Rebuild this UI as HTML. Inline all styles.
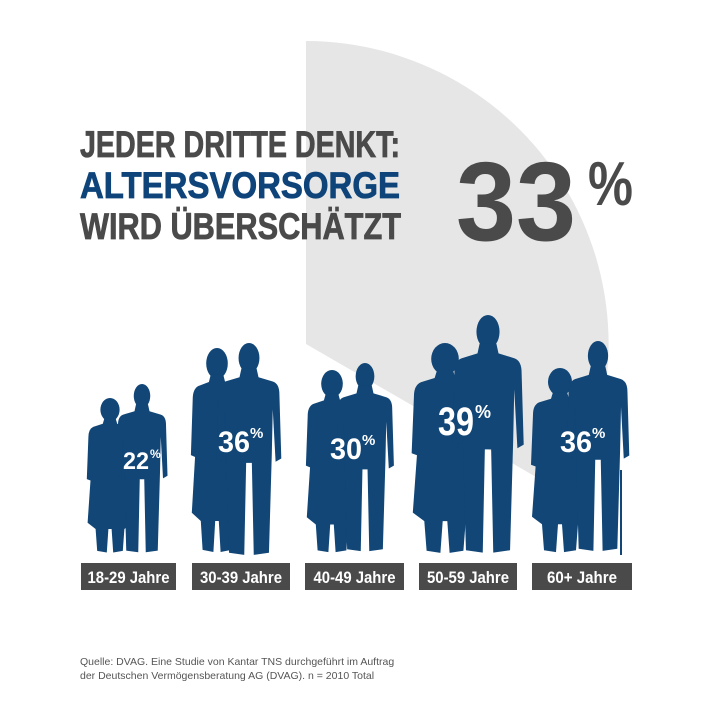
<!DOCTYPE html>
<html><head><meta charset="utf-8"><style>
html,body{margin:0;padding:0;background:#fff;}
svg{display:block;}
text{font-family:"Liberation Sans Narrow","Liberation Sans",sans-serif;font-weight:bold;}
</style></head><body>
<svg width="710" height="710" viewBox="0 0 710 710" xmlns="http://www.w3.org/2000/svg">
<defs>
<g id="man2"><ellipse cx="0" cy="14" rx="11" ry="14"/><path d="M-8,24 L8,24 L10,32 L25,36 Q32,38 32,48 L34,108 L28,111 L25,62 L24,104 L21,196 L5,198 L3,112 L-3,112 L-5,198 L-21,196 L-24,104 L-25,62 L-28,111 L-34,108 L-32,48 Q-32,38 -25,36 L-10,32 Z"/></g>
<g id="wom"><ellipse cx="0" cy="15" rx="12" ry="15"/><path d="M-7,26 L7,26 L9,33 L21,37 Q27,40 27,50 L29,104 L24,106 L22,70 L28,160 L18,168 L16,196 L4,198 L2,168 L-2,168 L-4,198 L-16,196 L-18,168 L-28,160 L-22,70 L-24,106 L-29,104 L-27,50 Q-27,40 -21,37 L-9,33 Z"/></g>
</defs>
<path d="M306,344 L306,41 A303,303 0 0,1 568,495.5 Z" fill="#e6e6e6"/>
<g stroke-width="0.8">
<text x="80" y="157" font-size="37" fill="#4a4a4a" stroke="#4a4a4a" textLength="320" lengthAdjust="spacingAndGlyphs">JEDER DRITTE DENKT:</text>
<text x="80" y="198" font-size="37" fill="#0e4479" stroke="#0e4479" textLength="320" lengthAdjust="spacingAndGlyphs">ALTERSVORSORGE</text>
<text x="80" y="239" font-size="37" fill="#4a4a4a" stroke="#4a4a4a" textLength="321" lengthAdjust="spacingAndGlyphs">WIRD ÜBERSCHÄTZT</text>
</g>
<text x="456" y="240" font-size="112" fill="#4a4a4a" textLength="120" lengthAdjust="spacingAndGlyphs">33</text>
<text x="588" y="205" font-size="62" fill="#4a4a4a" textLength="45" lengthAdjust="spacingAndGlyphs">%</text>
<g fill="#114677">
<use href="#wom" transform="translate(110,398) scale(0.8,0.78)"/>
<use href="#man2" transform="translate(142,384) scale(0.75,0.85)"/>
<use href="#wom" transform="translate(217,348) scale(0.9,1.03)"/>
<use href="#man2" transform="translate(249,343) scale(0.95,1.07)"/>
<use href="#wom" transform="translate(332,370) scale(0.9,0.92)"/>
<use href="#man2" transform="translate(365,363) scale(0.85,0.95)"/>
<use href="#wom" transform="translate(445,343) scale(1.15,1.06)"/>
<use href="#man2" transform="translate(488,315) scale(1.05,1.2)"/>
<use href="#wom" transform="translate(560,368) scale(1.0,0.93)"/>
<use href="#man2" transform="translate(598,341) scale(0.92,1.06)"/>
<rect x="620" y="470" width="2" height="85"/>
</g>
<g fill="#fff">
<text x="123" y="469" font-size="24" textLength="26" lengthAdjust="spacingAndGlyphs">22</text>
<text x="150" y="458" font-size="12">%</text>
<text x="218" y="452" font-size="30" textLength="32" lengthAdjust="spacingAndGlyphs">36</text>
<text x="250" y="438" font-size="15">%</text>
<text x="330" y="459" font-size="30" textLength="32" lengthAdjust="spacingAndGlyphs">30</text>
<text x="362" y="445" font-size="15">%</text>
<text x="438" y="435" font-size="40" textLength="36" lengthAdjust="spacingAndGlyphs">39</text>
<text x="475" y="418" font-size="18">%</text>
<text x="560" y="452" font-size="30" textLength="32" lengthAdjust="spacingAndGlyphs">36</text>
<text x="592" y="438" font-size="15">%</text>
</g>
<g fill="#4a4a4a">
<rect x="81" y="563" width="95" height="27"/>
<rect x="192" y="563" width="98" height="27"/>
<rect x="305" y="563" width="99" height="27"/>
<rect x="419" y="563" width="98" height="27"/>
<rect x="532" y="563" width="100" height="27"/>
</g>
<g fill="#fff" font-size="17" text-anchor="middle">
<text x="128.5" y="583" textLength="82" lengthAdjust="spacingAndGlyphs">18-29 Jahre</text>
<text x="241" y="583" textLength="82" lengthAdjust="spacingAndGlyphs">30-39 Jahre</text>
<text x="354.5" y="583" textLength="82" lengthAdjust="spacingAndGlyphs">40-49 Jahre</text>
<text x="468" y="583" textLength="82" lengthAdjust="spacingAndGlyphs">50-59 Jahre</text>
<text x="582" y="583" textLength="70" lengthAdjust="spacingAndGlyphs">60+ Jahre</text>
</g>
<g fill="#555" font-size="10.5">
<text x="80" y="665" style="font-family:'Liberation Sans',sans-serif;font-weight:normal">Quelle: DVAG. Eine Studie von Kantar TNS durchgeführt im Auftrag</text>
<text x="80" y="679" style="font-family:'Liberation Sans',sans-serif;font-weight:normal">der Deutschen Vermögensberatung AG (DVAG). n = 2010 Total</text>
</g>
</svg>
</body></html>
